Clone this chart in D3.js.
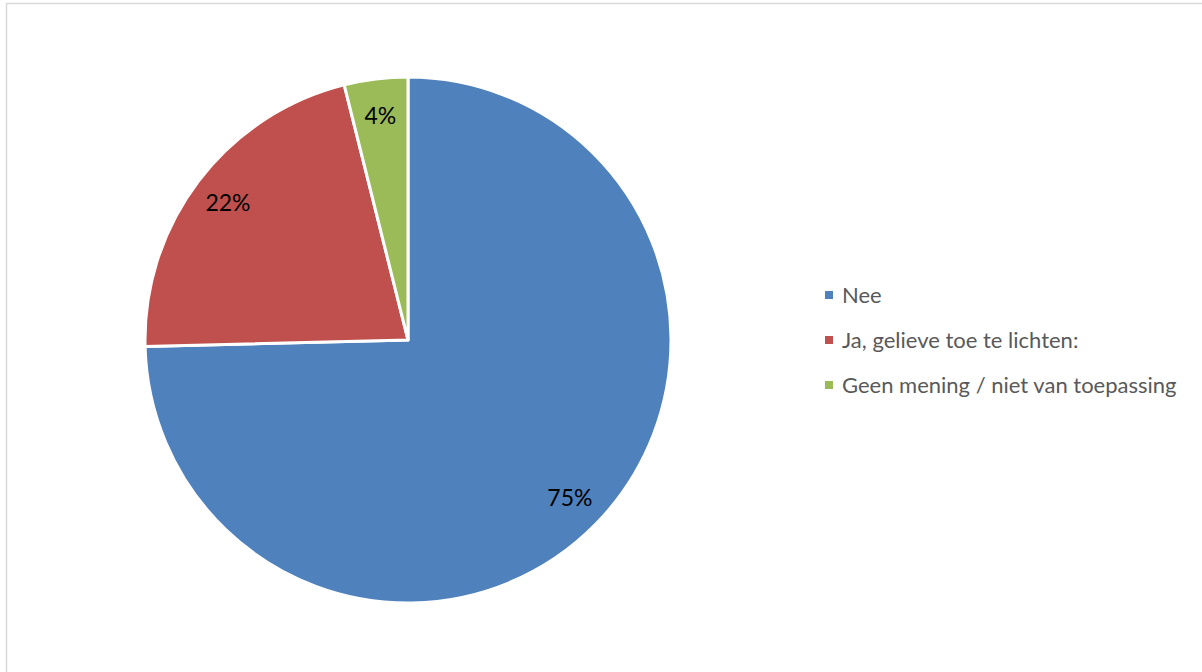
<!DOCTYPE html>
<html><head><meta charset="utf-8">
<script src="https://cdn.jsdelivr.net/npm/d3@7/dist/d3.min.js"></script>
<style>html,body{margin:0;padding:0;background:#fff;}svg{display:block;}</style>
</head><body>
<svg id="c" width="1202" height="672"></svg>
<script>
const categories = ["Nee", "Ja, gelieve toe te lichten:", "Geen mening / niet van toepassing"];
const values = [74.6, 21.5, 3.9];
const labels = ["75%", "22%", "4%"];
const colors = ["#4f81bd", "#c0504d", "#9bbb59"];

const svg = d3.select("#c");
svg.append("rect").attr("x", 6.5).attr("y", 3.5).attr("width", 1210).attr("height", 690)
  .attr("fill", "#fff").attr("stroke", "#d9d9d9").attr("stroke-width", 1.5);

const cx = 408, cy = 340, R = 263;
const data = categories.map((c, i) => ({cat: c, value: values[i], label: labels[i], color: colors[i]}));
const pie = d3.pie().sort(null).value(d => d.value);
const arc = d3.arc().innerRadius(0).outerRadius(R);
const labelArc = d3.arc().innerRadius(R * 0.86).outerRadius(R * 0.86);
const g = svg.append("g").attr("transform", `translate(${cx},${cy})`);
const arcs = pie(data);
g.selectAll("path").data(arcs).join("path")
  .attr("d", arc).attr("fill", d => d.data.color)
  .attr("stroke", "#fff").attr("stroke-width", 3).attr("stroke-linejoin", "round");
g.selectAll("text").data(arcs).join("text")
  .attr("transform", d => `translate(${labelArc.centroid(d)})`)
  .attr("text-anchor", "middle").attr("dy", "0.35em")
  .attr("font-family", "Lato, 'Open Sans', sans-serif").attr("font-size", 23)
  .attr("fill", "#000").text(d => d.data.label);

const y = d3.scalePoint().domain(categories).range([295, 385]);
const leg = svg.append("g");
const items = leg.selectAll("g").data(data).join("g")
  .attr("transform", d => `translate(825,${y(d.cat)})`);
items.append("rect").attr("x", 0).attr("y", -4).attr("width", 8).attr("height", 8).attr("fill", d => d.color);
items.append("text").attr("x", 17).attr("dy", "0.35em")
  .attr("font-family", "Lato, 'Open Sans', sans-serif").attr("font-size", 22)
  .attr("fill", "#595959").text(d => d.cat);
</script>
</body></html>
